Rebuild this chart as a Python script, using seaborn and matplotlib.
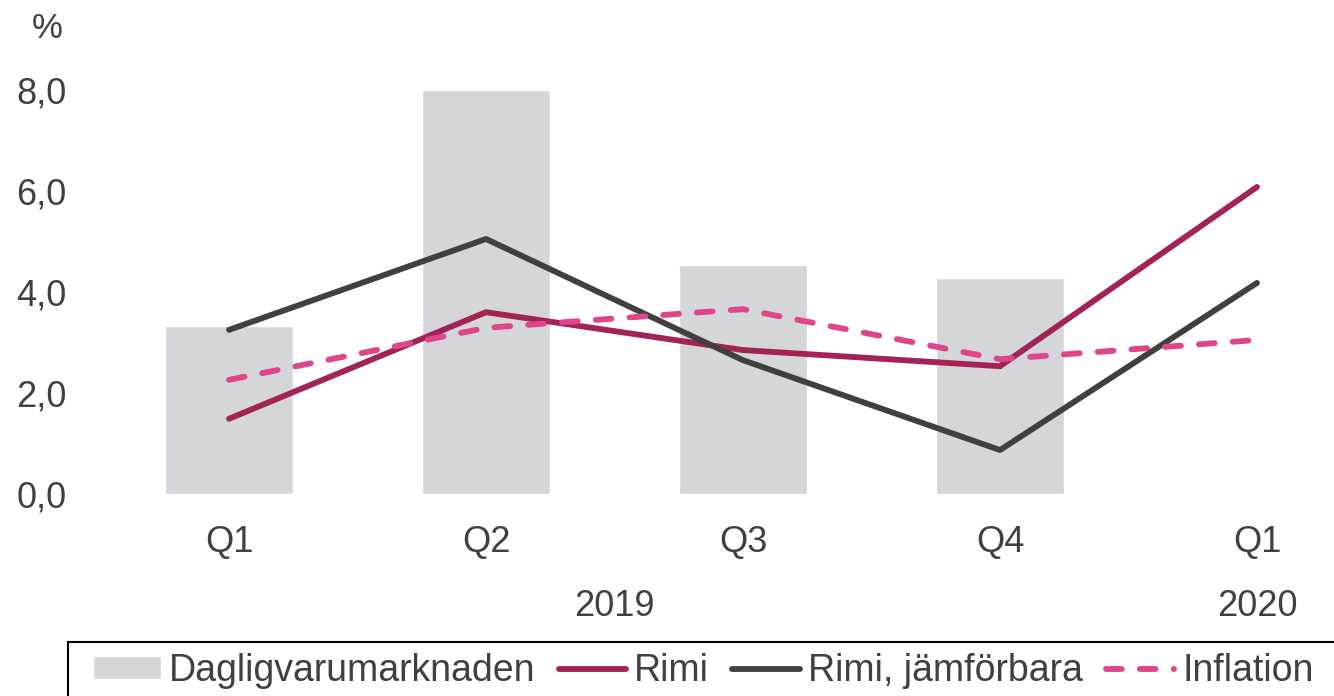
import numpy as np
import matplotlib
matplotlib.use("Agg")
import matplotlib.pyplot as plt
from matplotlib.patches import Rectangle
import seaborn as sns

# data
quarters = ["Q1", "Q2", "Q3", "Q4", "Q1"]
years = ["2019", "2020"]
market = [3.33, 8.0, 4.53, 4.28]          # Dagligvarumarknaden (no bar for 2020 Q1)
rimi = [1.49, 3.60, 2.85, 2.53, 6.08]
rimi_comp = [3.25, 5.05, 2.65, 0.87, 4.18]
inflation = [2.26, 3.29, 3.66, 2.67, 3.05]
y_ticks = [0, 2, 4, 6, 8]

sns.set_style("white")
plt.rcParams['font.family'] = ['Liberation Sans', 'DejaVu Sans']
text_col = "#404040"

fig = plt.figure(figsize=(13.34, 6.96), dpi=100)
ax = fig.add_axes([100 / 1334, (696 - 494) / 696, 1234 / 1334, 8.4 * 50.5 / 696])

pos = np.arange(len(quarters))
sns.barplot(x=pos[:len(market)], y=market, native_scale=True, width=0.5,
            color="#d5d6da", saturation=1, ax=ax, label="Dagligvarumarknaden")
sns.lineplot(x=pos, y=rimi, color="#a32257", lw=4.2, ax=ax, label="Rimi",
             solid_capstyle="round")
sns.lineplot(x=pos, y=rimi_comp, color="#404040", lw=4.2, ax=ax,
             label="Rimi, jämförbara", solid_capstyle="round")
sns.lineplot(x=pos, y=inflation, color="#e0448b", lw=4.2, ax=ax, label="Inflation",
             linestyle=(0, (2.7, 3.1)), dash_capstyle="round")

ax.set_xlim(-(229 - 100) / 257, 4 + (1334 - 1257) / 257)
ax.set_ylim(0, 8.4)
ax.set_yticks(y_ticks)
ax.set_yticklabels([f"{v:.1f}".replace(".", ",") for v in y_ticks])
ax.set_xticks(pos)
ax.set_xticklabels(quarters)
ax.tick_params(axis="both", length=0, labelsize=26, colors=text_col)
ax.tick_params(axis="y", pad=24)
ax.tick_params(axis="x", pad=22)
for s in ax.spines.values():
    s.set_visible(False)
ax.grid(False)

# year labels and unit
ax.text(1.5, -0.265, years[0], transform=ax.get_xaxis_transform(), ha="center",
        va="center", fontsize=26, color=text_col)
ax.text(4, -0.265, years[1], transform=ax.get_xaxis_transform(), ha="center",
        va="center", fontsize=26, color=text_col)
fig.text(47 / 1334, 1 - 28 / 696, "%", ha="center", va="center", fontsize=25, color=text_col)

# legend, with its box drawn so it runs off the right and bottom edges
handles, labels = ax.get_legend_handles_labels()
order = [3, 0, 1, 2]
ax.legend_.remove()
leg = fig.legend([handles[i] for i in order], [labels[i] for i in order],
                 loc="center left", bbox_to_anchor=(93 / 1334, 1 - 671 / 696),
                 ncol=4, frameon=False, prop={"size": 27},
                 handlelength=1.8, handleheight=0.55, handletextpad=0.22,
                 columnspacing=0.62, borderpad=0, borderaxespad=0)
for t in leg.get_texts():
    t.set_color(text_col)
fig.patches.append(Rectangle((68 / 1334, -0.05), 1.1, 1 - 642 / 696 + 0.05,
                             transform=fig.transFigure, fill=False,
                             edgecolor="black", lw=1.5))

fig.savefig("out.png", dpi=100)
